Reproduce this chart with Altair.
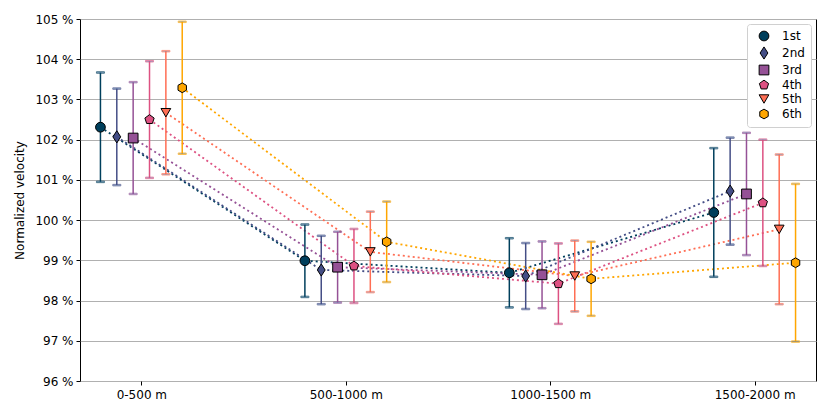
import json
import altair as alt
import pandas as pd

categories = ["0-500 m", "500-1000 m", "1000-1500 m", "1500-2000 m"]
series = ["1st", "2nd", "3rd", "4th", "5th", "6th"]

val_1st = [102.31, 98.99, 98.69, 100.19]
val_2nd = [102.07, 98.76, 98.61, 100.72]
val_3rd = [102.04, 98.83, 98.64, 100.65]
val_4th = [102.50, 98.86, 98.42, 100.43]
val_5th = [102.67, 99.21, 98.61, 99.77]
val_6th = [103.29, 99.46, 98.54, 98.94]

err_1st = [1.36, 0.90, 0.86, 1.60]
err_2nd = [1.20, 0.85, 0.82, 1.33]
err_3rd = [1.39, 0.88, 0.83, 1.52]
err_4th = [1.45, 0.92, 1.00, 1.57]
err_5th = [1.53, 1.00, 0.88, 1.86]
err_6th = [1.64, 1.00, 0.92, 1.96]

colors = ["#003f5c", "#444e86", "#955196", "#dd5182", "#ff6e54", "#ffa600"]

pentagon = "M0,-1L0.951,-0.309L0.588,0.809L-0.588,0.809L-0.951,-0.309Z"
hexagon = "M0,-1L0.866,-0.5L0.866,0.5L0,1L-0.866,0.5L-0.866,-0.5Z"
thin_diamond = "M0,-1.25L0.8,0L0,1.25L-0.8,0Z"
shapes = ["circle", thin_diamond, "square", pentagon, "triangle-down", hexagon]

values = [val_1st, val_2nd, val_3rd, val_4th, val_5th, val_6th]
errors = [err_1st, err_2nd, err_3rd, err_4th, err_5th, err_6th]

rows = []
for si, name in enumerate(series):
    for gi, cat in enumerate(categories):
        v = values[si][gi]
        e = errors[si][gi]
        rows.append({
            "series": name,
            "x": gi + (si - 2.5) * 0.08,
            "v": v,
            "lo": v - e,
            "hi": v + e,
        })
df = pd.DataFrame(rows)

xscale = alt.Scale(domain=[-0.3, 3.3], nice=False, zero=False)
xaxis = alt.Axis(values=[0, 1, 2, 3], title=None, grid=False, labelPadding=4,
                 labelExpr=json.dumps(categories) + "[datum.value]")
yscale = alt.Scale(domain=[96, 105], nice=False, zero=False)
yaxis = alt.Axis(values=list(range(96, 106)), title="Normalized velocity",
                 labelExpr="datum.value + ' %'", grid=True, labelPadding=3,
                 titlePadding=8, gridColor="#b0b0b0", gridWidth=1, gridOpacity=1)
# data-driven domain (sorted 1st..6th) so this scale stays separate from the legend scale
stroke_scale = alt.Scale(range=colors)

base = alt.Chart(df).encode(x=alt.X("x:Q", scale=xscale, axis=xaxis))

lines = base.mark_line(strokeDash=[2, 3], strokeWidth=1.8).encode(
    y=alt.Y("v:Q", scale=yscale, axis=yaxis),
    stroke=alt.Stroke("series:N", scale=stroke_scale, legend=None),
    detail="series:N", order="x:Q",
)

rules = base.mark_rule(strokeWidth=1.5).encode(
    y="lo:Q", y2="hi:Q",
    stroke=alt.Stroke("series:N", scale=stroke_scale, legend=None),
)

cap_lo = base.mark_tick(orient="horizontal", size=8, thickness=1.5).encode(
    y="lo:Q", stroke=alt.Stroke("series:N", scale=stroke_scale, legend=None),
)
cap_hi = base.mark_tick(orient="horizontal", size=8, thickness=1.5).encode(
    y="hi:Q", stroke=alt.Stroke("series:N", scale=stroke_scale, legend=None),
)

leg = alt.Legend(title=None, orient="top-right", offset=5)
points = base.mark_point(filled=True, opacity=1, stroke="black", strokeWidth=1, size=95).encode(
    y="v:Q",
    color=alt.Color("series:N", scale=alt.Scale(domain=series, range=colors), legend=leg),
    shape=alt.Shape("series:N", scale=alt.Scale(domain=series, range=shapes), legend=leg),
)

chart = alt.layer(lines, rules, cap_lo, cap_hi, points).properties(
    width=736,
    height=362,
).configure_view(
    stroke="black", strokeWidth=1
).configure_axis(
    labelFont="DejaVu Sans", titleFont="DejaVu Sans",
    labelFontSize=12, titleFontSize=12, titleFontWeight="normal",
    labelColor="black", titleColor="black",
    domain=False, tickColor="black", tickSize=4,
).configure_legend(
    labelFont="DejaVu Sans", labelFontSize=12, labelColor="black",
    strokeColor="#d0d0d0", fillColor="white", padding=6, cornerRadius=3,
    rowPadding=1, symbolSize=95, symbolStrokeColor="black", symbolStrokeWidth=1,
    symbolOffset=5, labelOffset=12,
)

chart.save("out.html", embed_options={"renderer": "svg", "actions": False})
